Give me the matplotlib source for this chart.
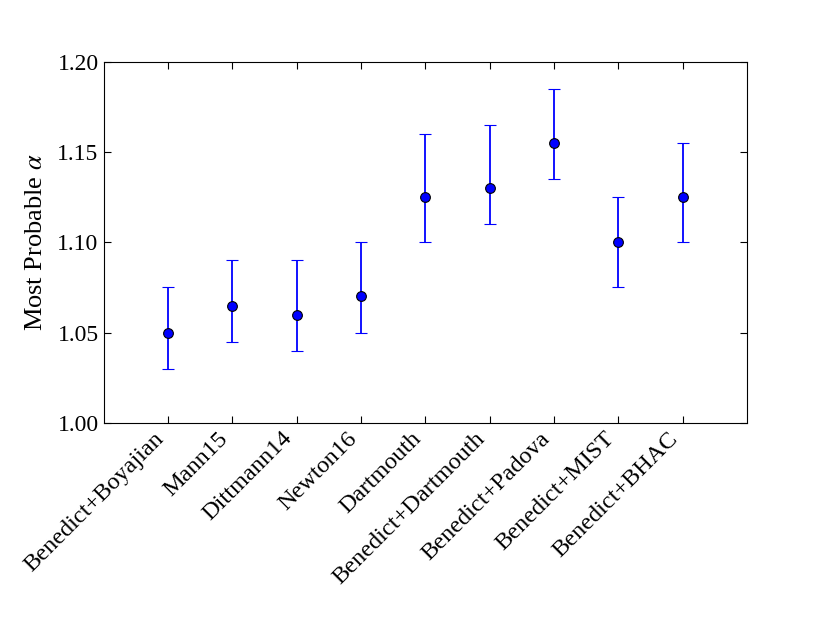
import numpy as np
import matplotlib
matplotlib.use('Agg')
import matplotlib.pyplot as plt

# data
models = ['Benedict+Boyajian', 'Mann15', 'Dittmann14', 'Newton16', 'Dartmouth',
          'Benedict+Dartmouth', 'Benedict+Padova', 'Benedict+MIST', 'Benedict+BHAC']
alpha = [1.050, 1.065, 1.060, 1.070, 1.125, 1.130, 1.155, 1.100, 1.125]
lower = [1.030, 1.045, 1.040, 1.050, 1.100, 1.110, 1.135, 1.075, 1.100]
upper = [1.075, 1.090, 1.090, 1.100, 1.160, 1.165, 1.185, 1.125, 1.155]

plt.rcParams['font.family'] = ['Liberation Serif', 'DejaVu Serif']
plt.rcParams['mathtext.fontset'] = 'stix'
plt.rcParams['xtick.direction'] = 'in'
plt.rcParams['ytick.direction'] = 'in'
plt.rcParams['xtick.top'] = True
plt.rcParams['ytick.right'] = True

x = np.arange(len(models))
a = np.array(alpha)
yerr = [a - np.array(lower), np.array(upper) - a]

fig = plt.figure(figsize=(8.3, 6.23), dpi=100)
# frame: left 103, right 747, top 62, bottom 423 (px)
ax = fig.add_axes([103.5/830, 200/623, 643.5/830, 361.5/623])

ax.errorbar(x, a, yerr=yerr, fmt='o', color='blue', ecolor='blue', mec='black',
            mew=0.8, ms=7, capsize=4, elinewidth=1.3, capthick=1.0)

ax.set_xlim(-1, 9)
ax.set_ylim(1.0, 1.2)
ax.set_yticks([1.00, 1.05, 1.10, 1.15, 1.20])
ax.set_yticklabels(['1.00', '1.05', '1.10', '1.15', '1.20'], fontsize=17)
ax.set_xticks(x)
ax.set_xticklabels(models, rotation=45, ha='right', fontsize=17.5)
ax.tick_params(length=5, width=0.8)
ax.set_ylabel(r'Most Probable $\alpha$', fontsize=19)
ax.yaxis.set_label_coords(-0.088, 0.5)

fig.savefig('out.png', dpi=100)
